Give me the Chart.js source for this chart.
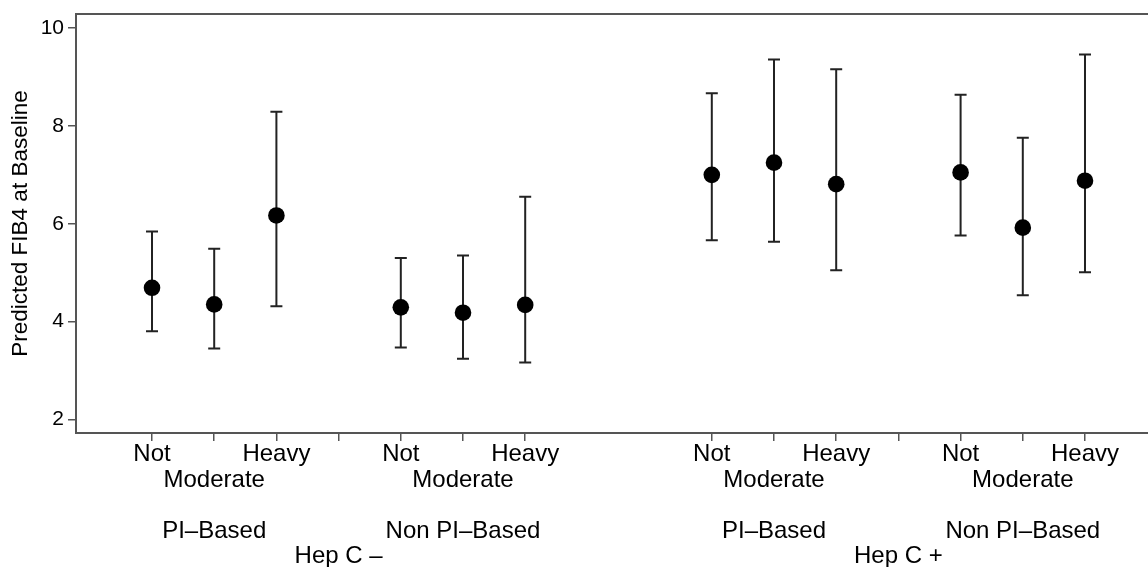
<!DOCTYPE html>
<html>
<head>
<meta charset="utf-8">
<script src="https://cdn.jsdelivr.net/npm/chart.js@4"></script>
<style>
  html, body { margin: 0; padding: 0; background: #fff; }
  #wrap { width: 1148px; height: 567px; }
</style>
</head>
<body>
<div id="wrap"><canvas id="fib4Chart" width="1148" height="567"></canvas></div>
<script>
/* predicted FIB4 at baseline, by Hep C status / regimen / drinking level */
var drinkLevels = ['Not', 'Moderate', 'Heavy'];
var regimens    = ['PI\u2013Based', 'Non PI\u2013Based'];
var hepStatus   = ['Hep C \u2013', 'Hep C +'];

// order: HepC-/PI, HepC-/NonPI, HepC+/PI, HepC+/NonPI, each Not, Moderate, Heavy
var estimate = [4.69, 4.35, 6.17, 4.29, 4.18, 4.34, 7.00, 7.25, 6.81, 7.05, 5.92, 6.88];
var lower    = [3.80, 3.45, 4.31, 3.47, 3.24, 3.16, 5.66, 5.63, 5.05, 5.76, 4.54, 5.01];
var upper    = [5.84, 5.49, 8.29, 5.30, 5.35, 6.55, 8.67, 9.36, 9.16, 8.64, 7.76, 9.46];

var yTicks = [2, 4, 6, 8, 10];

var FONT = 'Liberation Sans, Arial, Helvetica, sans-serif';
var axisCol = '#555';

// slot on the x axis for each estimate, plus the tick labels
var slots = [];
var tickLabels = {};
hepStatus.forEach(function (hep, h) {
  regimens.forEach(function (reg, r) {
    drinkLevels.forEach(function (lvl, l) {
      var k = h * 9 + r * 4 + l;
      slots.push(k);
      tickLabels[k] = (l === 1) ? ['', lvl, '', reg] : [lvl];
    });
  });
  tickLabels[h * 9 + 3] = ['', '', '', '', hep];
});
var tickValues = Object.keys(tickLabels).map(Number).sort(function (a, b) { return a - b; });

var points = estimate.map(function (v, i) { return { x: slots[i], y: v }; });

var errorBars = {
  id: 'errorBars',
  beforeDatasetsDraw: function (chart) {
    var ctx = chart.ctx, xs = chart.scales.x, ys = chart.scales.y;
    ctx.save();
    ctx.strokeStyle = '#222';
    ctx.lineWidth = 2;
    for (var i = 0; i < estimate.length; i++) {
      var px = xs.getPixelForValue(slots[i]);
      var top = ys.getPixelForValue(upper[i]);
      var bot = ys.getPixelForValue(lower[i]);
      ctx.beginPath();
      ctx.moveTo(px, top); ctx.lineTo(px, bot);
      ctx.moveTo(px - 6, top); ctx.lineTo(px + 6, top);
      ctx.moveTo(px - 6, bot); ctx.lineTo(px + 6, bot);
      ctx.stroke();
    }
    ctx.restore();
  }
};

function noEdgePadding(s) {
  s.paddingTop = 0; s.paddingBottom = 0; s.paddingLeft = 0; s.paddingRight = 0;
}

new Chart(document.getElementById('fib4Chart'), {
  type: 'scatter',
  data: {
    datasets: [{
      data: points,
      pointRadius: 8.3,
      pointHoverRadius: 8.3,
      pointBackgroundColor: '#000',
      pointBorderWidth: 0,
      showLine: false
    }]
  },
  options: {
    responsive: false,
    animation: false,
    events: [],
    layout: { padding: 0, autoPadding: false },
    plugins: { legend: { display: false }, tooltip: { enabled: false } },
    scales: {
      x: {
        type: 'linear',
        position: 'bottom',
        min: -1.222,
        max: 16.013,
        afterBuildTicks: function (s) { s.ticks = tickValues.map(function (v) { return { value: v }; }); },
        afterFit: function (s) { s.height = 134; noEdgePadding(s); },
        grid: { drawOnChartArea: false, tickLength: 8, color: axisCol, lineWidth: 1.5 },
        border: { display: true, color: axisCol, width: 2 },
        ticks: {
          autoSkip: false,
          maxRotation: 0,
          padding: 1,
          color: '#000',
          font: { family: FONT, size: 24, lineHeight: 25.5 / 24 },
          callback: function (v) { return tickLabels[v] || ''; }
        }
      },
      xTop: {
        type: 'linear',
        position: 'top',
        min: -1.222,
        max: 16.013,
        afterFit: function (s) { s.height = 14; noEdgePadding(s); },
        grid: { drawOnChartArea: false, drawTicks: false },
        border: { display: true, color: axisCol, width: 2 },
        ticks: { display: false }
      },
      y: {
        position: 'left',
        min: 1.72,
        max: 10.29,
        afterBuildTicks: function (s) { s.ticks = yTicks.map(function (v) { return { value: v }; }); },
        afterFit: function (s) { s.width = 76; noEdgePadding(s); },
        grid: { drawOnChartArea: false, tickLength: 8, color: axisCol, lineWidth: 1.5 },
        border: { display: true, color: axisCol, width: 2 },
        ticks: { padding: 4, color: '#000', font: { family: FONT, size: 21 } },
        title: {
          display: true,
          text: 'Predicted FIB4 at Baseline',
          color: '#000',
          padding: { top: 7, bottom: 0 },
          font: { family: FONT, size: 22.5, lineHeight: 1.2 }
        }
      }
    }
  },
  plugins: [errorBars]
});
</script>
</body>
</html>
